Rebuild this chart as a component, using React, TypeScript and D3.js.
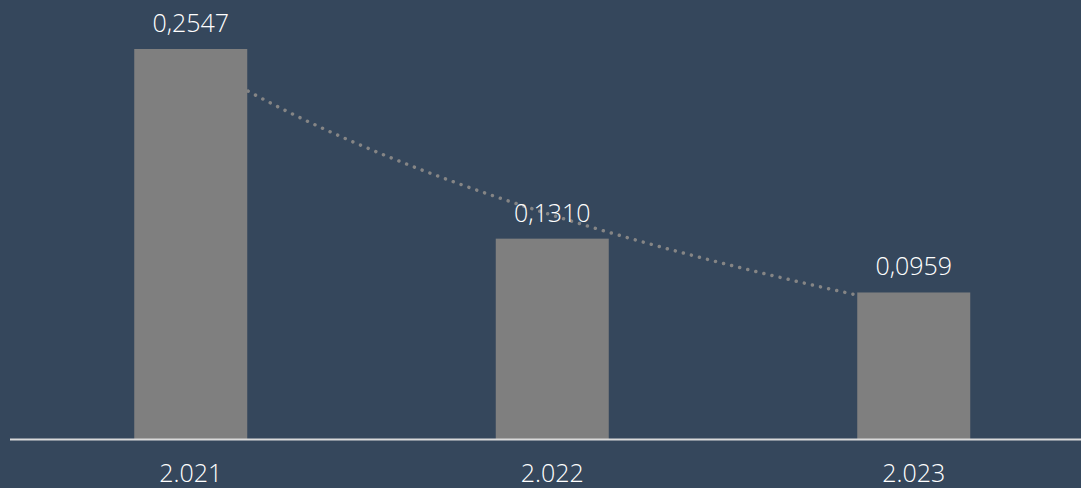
import { useEffect, useRef } from "react"
import * as d3 from "d3"

const years = ["2.021", "2.022", "2.023"]
const values = [0.2547, 0.131, 0.0959]
const valueLabels = ["0,2547", "0,1310", "0,0959"]

const W = 1081
const H = 488

export default function App() {
  const svgRef = useRef<SVGSVGElement>(null)

  useEffect(() => {
    if (!svgRef.current) return
    const svg = d3.select(svgRef.current)
    svg.selectAll("*").remove()

    const baseY = 439.5
    const x = d3
      .scaleBand()
      .domain(years)
      .range([10, 1094.5])
      .paddingInner(0.6874)
      .paddingOuter(0.3437)
    const y = d3.scaleLinear().domain([0, 0.2547]).range([baseY, 49])

    svg.append("rect").attr("width", W).attr("height", H).attr("fill", "#35475c")

    // logarithmic trendline (least squares on ln(x))
    const lx = values.map((_, i) => Math.log(i + 1))
    const mx = d3.mean(lx) as number
    const my = d3.mean(values) as number
    const sxy = d3.sum(lx, (v, i) => (v - mx) * (values[i] - my))
    const sxx = d3.sum(lx, (v) => (v - mx) ** 2)
    const b = sxy / sxx
    const a = my - b * mx
    const step = x.step()
    const c0 = (x(years[0]) as number) + x.bandwidth() / 2
    const pts = d3.range(0, 2.0001, 0.02).map((t) => {
      const xi = 1 + t
      return [c0 + t * step, y(a + b * Math.log(xi))] as [number, number]
    })
    svg
      .append("path")
      .attr("d", d3.line()(pts))
      .attr("fill", "none")
      .attr("stroke", "#858585")
      .attr("stroke-width", 3.5)
      .attr("stroke-linecap", "round")
      .attr("stroke-dasharray", "0.01 8.3")

    svg
      .selectAll(".bar")
      .data(values)
      .enter()
      .append("rect")
      .attr("x", (_, i) => x(years[i]) as number)
      .attr("y", (d) => y(d))
      .attr("width", x.bandwidth())
      .attr("height", (d) => baseY - y(d))
      .attr("fill", "#7f7f7f")

    svg
      .append("line")
      .attr("x1", 10)
      .attr("x2", W)
      .attr("y1", baseY)
      .attr("y2", baseY)
      .attr("stroke", "#d9d9d9")
      .attr("stroke-width", 2)

    svg
      .selectAll(".val")
      .data(values)
      .enter()
      .append("text")
      .attr("x", (_, i) => (x(years[i]) as number) + x.bandwidth() / 2)
      .attr("y", (d) => y(d) - 17)
      .attr("text-anchor", "middle")
      .attr("fill", "#ffffff")
      .attr("font-family", "'Open Sans', sans-serif")
      .attr("font-weight", 300)
      .attr("font-size", 25)
      .text((_, i) => valueLabels[i])

    svg
      .selectAll(".cat")
      .data(years)
      .enter()
      .append("text")
      .attr("x", (d) => (x(d) as number) + x.bandwidth() / 2)
      .attr("y", 482)
      .attr("text-anchor", "middle")
      .attr("fill", "#ffffff")
      .attr("font-family", "'Open Sans', sans-serif")
      .attr("font-weight", 300)
      .attr("font-size", 25)
      .text((d) => d)
  }, [])

  return (
    <svg
      ref={svgRef}
      width={W}
      height={H}
      style={{ position: "absolute", left: 0, top: 0, display: "block" }}
    />
  )
}
